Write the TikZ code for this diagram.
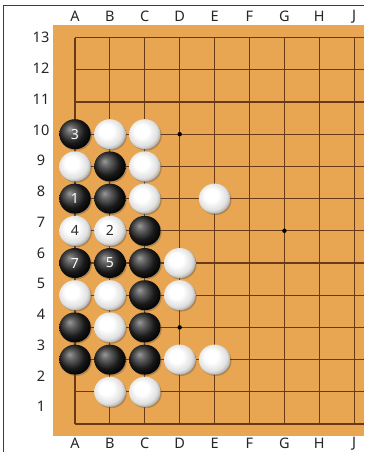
\documentclass[tikz,border=0pt]{standalone}
\usepackage{fontspec}
\setmainfont{Noto Sans}
\usetikzlibrary{shapes.geometric,shadows}
\definecolor{wood}{RGB}{232,166,82}
\definecolor{gridc}{RGB}{105,58,22}
\definecolor{framec}{RGB}{60,60,60}
\definecolor{wtext}{RGB}{45,45,45}
\pgfdeclareradialshading{bstone}{\pgfpoint{-9bp}{9bp}}{color(0bp)=(black!40); color(8bp)=(black!62); color(20bp)=(black!90); color(30bp)=(black); color(50bp)=(black)}
\pgfdeclareradialshading{wstone}{\pgfpoint{-7bp}{7bp}}{color(0bp)=(white); color(11bp)=(white); color(23bp)=(black!12); color(31bp)=(black!40); color(50bp)=(black!45)}
\tikzset{
  gridline/.style={draw=gridc, line width=1.1pt},
  stonebase/.style={ellipse, inner sep=0pt, minimum width=31.4pt, minimum height=30pt,
     drop shadow={shadow xshift=1.2pt, shadow yshift=-1.4pt, opacity=0.35, fill=black!70},
     font=\fontsize{14}{14}\selectfont\bfseries},
  blackstone/.style={stonebase, shade, shading=bstone, text=white},
  whitestone/.style={stonebase, shade, shading=wstone, text=wtext},
  coordlabel/.style={font=\fontsize{14.5}{15}\selectfont, text=black!85, inner sep=0pt},
  starpt/.style={circle, fill=black, inner sep=0pt, minimum size=4.4pt}
}
\begin{document}
\begin{tikzpicture}[x=1pt,y=-1pt]
\useasboundingbox (0,0) rectangle (364,452);
\fill[white] (0,0) rectangle (364,452);
% frame
\draw[framec, line width=1.4pt] (3.3,452) -- (3.3,5.6) -- (364,5.6);
% board
\fill[wood] (53,25) rectangle (364,436);
\foreach \i in {0,...,8}
  \draw[gridline] ({75+34.9*\i},37.6) -- ({75+34.9*\i},424);
\foreach \r in {1,...,13}
  \draw[gridline] (75,{424-32.2*(\r-1)}) -- (364,{424-32.2*(\r-1)});
% star points
\node[starpt] (s1) at ({75+34.9*3},{424-32.2*9}) {};
\node[starpt] (s2) at ({75+34.9*6},{424-32.2*6}) {};
\node[starpt] (s3) at ({75+34.9*3},{424-32.2*3}) {};
% column labels
\foreach \l [count=\i from 0] in {A,B,C,D,E,F,G,H,J} {
  \node[coordlabel] (ct\l) at ({75+34.9*\i},16.5) {\l};
  \node[coordlabel] (cb\l) at ({75+34.9*\i},443.5) {\l};
}
% row labels
\foreach \r in {1,...,13}
  \node[coordlabel] (r\r) at (41,{37.7+30.75*(13-\r)}) {\r};
% black stones
\foreach \c/\r/\n in {0/10/3, 1/9/{}, 0/8/1, 1/8/{}, 2/7/{}, 0/6/7, 1/6/5, 2/6/{}, 2/5/{}, 0/4/{}, 2/4/{}, 0/3/{}, 1/3/{}, 2/3/{}}
  \node[blackstone] (b\c-\r) at ({75+34.9*\c},{424-32.2*(\r-1)}) {\n};
% white stones
\foreach \c/\r/\n in {1/10/{}, 2/10/{}, 0/9/{}, 2/9/{}, 2/8/{}, 4/8/{}, 0/7/4, 1/7/2, 3/6/{}, 0/5/{}, 1/5/{}, 3/5/{}, 1/4/{}, 3/3/{}, 4/3/{}, 1/2/{}, 2/2/{}}
  \node[whitestone] (w\c-\r) at ({75+34.9*\c},{424-32.2*(\r-1)}) {\n};
\end{tikzpicture}
\end{document}
